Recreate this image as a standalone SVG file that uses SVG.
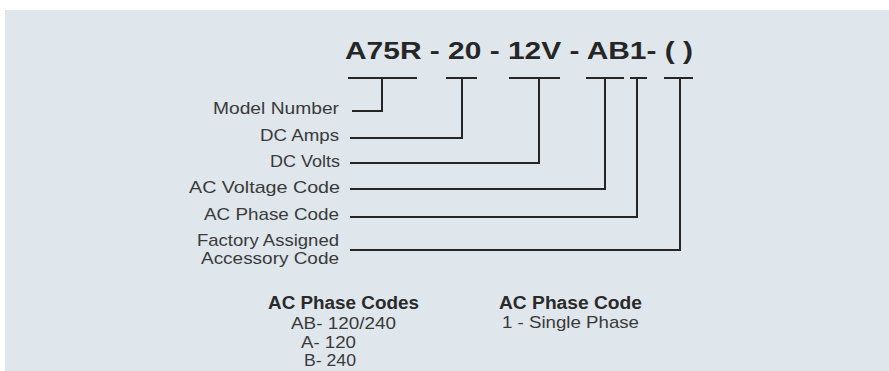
<svg xmlns="http://www.w3.org/2000/svg" width="889" height="371" viewBox="0 0 889 371">
<style>
.bg{fill:#dfe6ec}
.t{font-family:"Liberation Sans",Arial,sans-serif;fill:#3a3a3a}
.title{font-size:23px;font-weight:bold;fill:#262626}
.lbl{font-size:17px;text-anchor:end}
.hd{font-size:18px;font-weight:bold;fill:#2a2a2a}
.it{font-size:17px}
.c{fill:none;stroke:#262626;stroke-width:2;stroke-linecap:butt;stroke-linejoin:miter}
</style>
<rect x="0" y="0" width="889" height="371" fill="#ffffff"/>
<rect class="bg" x="5" y="10" width="884" height="361"/>
<g id="title">
<text class="t title" x="345" y="59" textLength="348" lengthAdjust="spacingAndGlyphs">A75R - 20 - 12V - AB1- ( )</text>
</g>
<g id="label-model"><text class="t lbl" x="339" y="114" textLength="126" lengthAdjust="spacingAndGlyphs">Model Number</text></g>
<g id="label-dcamps"><text class="t lbl" x="339" y="141" textLength="79" lengthAdjust="spacingAndGlyphs">DC Amps</text></g>
<g id="label-dcvolts"><text class="t lbl" x="340" y="167" textLength="70" lengthAdjust="spacingAndGlyphs">DC Volts</text></g>
<g id="label-acvoltage"><text class="t lbl" x="340" y="193" textLength="151" lengthAdjust="spacingAndGlyphs">AC Voltage Code</text></g>
<g id="label-acphase"><text class="t lbl" x="339" y="220" textLength="135" lengthAdjust="spacingAndGlyphs">AC Phase Code</text></g>
<g id="label-factory">
<text class="t lbl" x="339" y="246" textLength="142" lengthAdjust="spacingAndGlyphs">Factory Assigned</text>
<text class="t lbl" x="339" y="264" textLength="138" lengthAdjust="spacingAndGlyphs">Accessory Code</text>
</g>
<g id="connectors">
<line class="c" x1="348" y1="78" x2="417" y2="78"/>
<polyline class="c" points="382,78 382,111 352,111"/>
<line class="c" x1="446" y1="78" x2="477" y2="78"/>
<polyline class="c" points="462,78 462,138 350,138"/>
<line class="c" x1="509" y1="78" x2="560" y2="78"/>
<polyline class="c" points="539,78 539,163 350,163"/>
<line class="c" x1="586" y1="78" x2="624" y2="78"/>
<polyline class="c" points="605,78 605,189 350,189"/>
<line class="c" x1="630" y1="78" x2="647" y2="78"/>
<polyline class="c" points="637,78 637,217 350,217"/>
<line class="c" x1="664" y1="78" x2="693" y2="78"/>
<polyline class="c" points="680,78 680,250 350,250"/>
</g>
<g id="phase-codes">
<text class="t hd" x="268" y="309" textLength="151" lengthAdjust="spacingAndGlyphs">AC Phase Codes</text>
<text class="t it" x="291" y="329" textLength="105" lengthAdjust="spacingAndGlyphs">AB- 120/240</text>
<text class="t it" x="301" y="348" textLength="55" lengthAdjust="spacingAndGlyphs">A- 120</text>
<text class="t it" x="304" y="366" textLength="52" lengthAdjust="spacingAndGlyphs">B- 240</text>
</g>
<g id="phase-code">
<text class="t hd" x="499" y="309" textLength="143" lengthAdjust="spacingAndGlyphs">AC Phase Code</text>
<text class="t it" x="502" y="328" textLength="137" lengthAdjust="spacingAndGlyphs">1 - Single Phase</text>
</g>
</svg>
